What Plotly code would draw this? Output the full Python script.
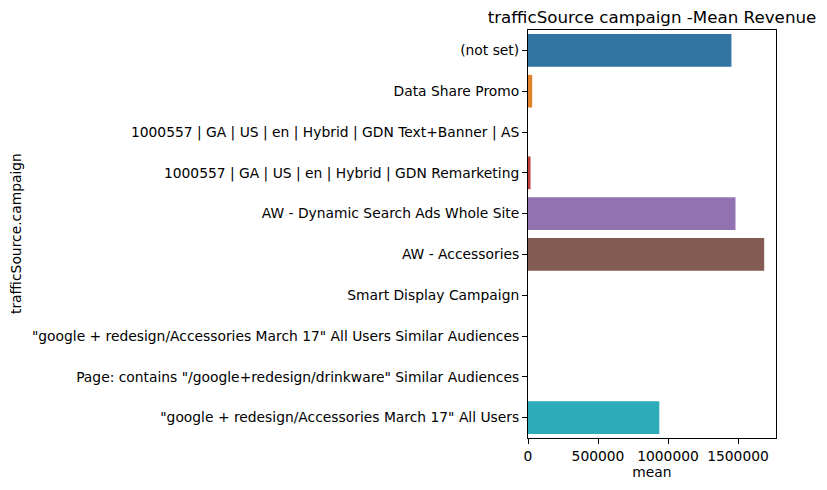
import plotly.graph_objects as go

campaigns = [
    "(not set)",
    "Data Share Promo",
    "1000557 | GA | US | en | Hybrid | GDN Text+Banner | AS",
    "1000557 | GA | US | en | Hybrid | GDN Remarketing",
    "AW - Dynamic Search Ads Whole Site",
    "AW - Accessories",
    "Smart Display Campaign",
    "\"google + redesign/Accessories March 17\" All Users Similar Audiences",
    "Page: contains \"/google+redesign/drinkware\" Similar Audiences",
    "\"google + redesign/Accessories March 17\" All Users",
]
mean_revenue = [1453000, 30000, 0, 18000, 1482000, 1687000, 0, 0, 0, 938000]
colors = ["#3274a1", "#e1812c", "#3a923a", "#c03d3e", "#9372b2",
          "#845b53", "#d684bd", "#7f7f7f", "#a9aa35", "#2eabb8"]

fig = go.Figure(go.Bar(
    x=mean_revenue, y=campaigns, orientation="h",
    marker=dict(color=colors, line=dict(width=0)),
    width=0.8,
))

font = "DejaVu Sans"
fs = 13.85
L, R, T, B = 528, 51, 30, 52
W, H = 827, 490
fig.update_layout(
    width=W, height=H,
    margin=dict(l=L, r=R, t=T, b=B, autoexpand=False),
    plot_bgcolor="white", paper_bgcolor="white",
    font=dict(family=font, size=fs, color="black"),
    showlegend=False,
    title=dict(text="trafficSource campaign -Mean Revenue",
               x=(L + (W - R)) / 2 / W, xanchor="center",
               y=1 - 17 / H, yanchor="middle",
               font=dict(size=16.7, family=font, color="black")),
    xaxis=dict(range=[0, 1687000 * 1.05], tickvals=[0, 500000, 1000000, 1500000],
               ticktext=["0", "500000", "1000000", "1500000"], automargin=False,
               showgrid=False, zeroline=False, showline=True, mirror=True,
               linecolor="black", linewidth=1, ticks="outside", ticklen=5,
               tickcolor="black", tickfont=dict(size=fs),
               title=dict(text="mean", font=dict(size=fs), standoff=4)),
    yaxis=dict(categoryorder="array", categoryarray=campaigns, autorange="reversed",
               automargin=False,
               showgrid=False, zeroline=False, showline=True, mirror=True,
               linecolor="black", linewidth=1, ticks="outside", ticklen=5,
               tickcolor="black", tickfont=dict(size=fs)),
    annotations=[dict(text="trafficSource.campaign",
                      x=(16 - L) / (W - L - R), xref="paper", y=0.5, yref="paper",
                      textangle=-90, showarrow=False, font=dict(size=fs, family=font),
                      xanchor="center", yanchor="middle")],
)

fig.write_html("out.html", config={"displayModeBar": False},
               post_script="document.body.style.margin='0';document.body.style.padding='0';")
